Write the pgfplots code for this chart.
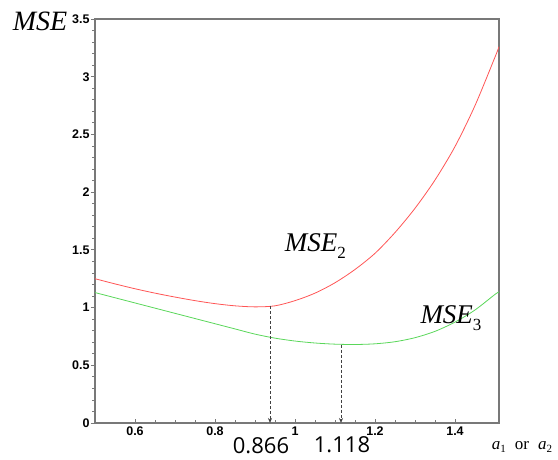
\documentclass[border=0pt]{standalone}
\usepackage{fontspec}
\setmainfont{Liberation Sans}
\newfontfamily\tnr{Liberation Serif}
\newfontfamily\osans{Open Sans}
\usepackage{pgfplots}
\pgfplotsset{compat=1.18}
\usetikzlibrary{calc,arrows.meta}
\definecolor{mred}{RGB}{255,85,85}
\definecolor{mgreen}{RGB}{90,215,90}
\definecolor{axgray}{RGB}{120,120,120}

\begin{document}
\begin{tikzpicture}
\begin{axis}[
  name=ax, at={(0,0)}, anchor=south west,
  scale only axis, width=404pt, height=404pt,
  xmin=0.5, xmax=1.51, ymin=0, ymax=3.5,
  xtick={0.6,0.8,1,1.2,1.4}, ytick={0,0.5,...,3.5},
  xticklabels={0.6,0.8,\raisebox{8pt}{1},\raisebox{2pt}{1.2},1.4},
  minor x tick num=3, minor y tick num=4,
  xtick pos=bottom, ytick pos=left,
  tick align=inside,
  major tick length=4pt, minor tick length=2.5pt,
  major y tick style={xshift=-4pt}, minor y tick style={xshift=-2.5pt},
  tick style={axgray, line width=0.8pt},
  axis line style={axgray, line width=1.3pt},
  tick label style={font=\bfseries\fontsize{12.5}{12.5}\selectfont},
  /pgf/number format/assume math mode=true,
  yticklabel style={xshift=-2pt},
  clip=false,
]
\addplot[mred, line width=0.8pt, smooth] coordinates {
  (0.50,1.25) (0.55,1.205) (0.60,1.163) (0.65,1.125) (0.70,1.091) (0.75,1.060)
  (0.80,1.034) (0.85,1.015) (0.90,1.006) (0.95,1.015) (1.00,1.06) (1.05,1.125)
  (1.10,1.215) (1.15,1.33) (1.20,1.47) (1.25,1.65) (1.30,1.86) (1.35,2.105)
  (1.40,2.395) (1.45,2.75) (1.50,3.17) (1.51,3.26)};
\addplot[mgreen, line width=0.8pt, smooth] coordinates {
  (0.50,1.13) (0.55,1.085) (0.60,1.04) (0.65,0.995) (0.70,0.95) (0.75,0.905)
  (0.80,0.86) (0.85,0.815) (0.90,0.77) (0.95,0.735) (1.00,0.71) (1.05,0.693)
  (1.10,0.683) (1.15,0.68) (1.20,0.686) (1.25,0.704) (1.30,0.739) (1.35,0.794)
  (1.40,0.874) (1.45,0.979) (1.50,1.114) (1.51,1.135)};
\addplot[black!75, line width=0.8pt, dash pattern=on 3pt off 2pt, -{Stealth[length=5pt,width=4pt]}]
  coordinates {(0.9375,1.01) (0.9375,0)};
\addplot[black!75, line width=0.8pt, dash pattern=on 3pt off 2pt, -{Stealth[length=5pt,width=4pt]}]
  coordinates {(1.115,0.68) (1.115,0)};
\node at (axis cs:1.051,1.53) {\tnr\fontsize{27}{27}\selectfont\itshape MSE\raisebox{-7pt}{\upshape\fontsize{17}{17}\selectfont 2}};
\node at (axis cs:1.39,0.91) {\tnr\fontsize{27}{27}\selectfont\itshape MSE\raisebox{-7pt}{\upshape\fontsize{17}{17}\selectfont 3}};
\end{axis}
\node at ($(ax.north west)+(-55pt,-2pt)$) {\tnr\fontsize{28}{28}\selectfont\itshape MSE};
\node at ($(ax.south west)+(166pt,-23pt)$) {\osans\fontsize{22}{22}\selectfont 0.866};
\node at ($(ax.south west)+(247pt,-22pt)$) {\osans\fontsize{22}{22}\selectfont 1.118};
\node at ($(ax.south east)+(23pt,-24pt)$) {\tnr\fontsize{17}{17}\selectfont\textit{a}\raisebox{-0.4ex}{\fontsize{11}{11}\selectfont 1}\hspace{9pt}or\hspace{9pt}\textit{a}\raisebox{-0.4ex}{\fontsize{11}{11}\selectfont 2}};
\path ($(ax.south west)+(-95pt,-37pt)$) rectangle ($(ax.north east)+(59pt,19pt)$);
\end{tikzpicture}
\end{document}
